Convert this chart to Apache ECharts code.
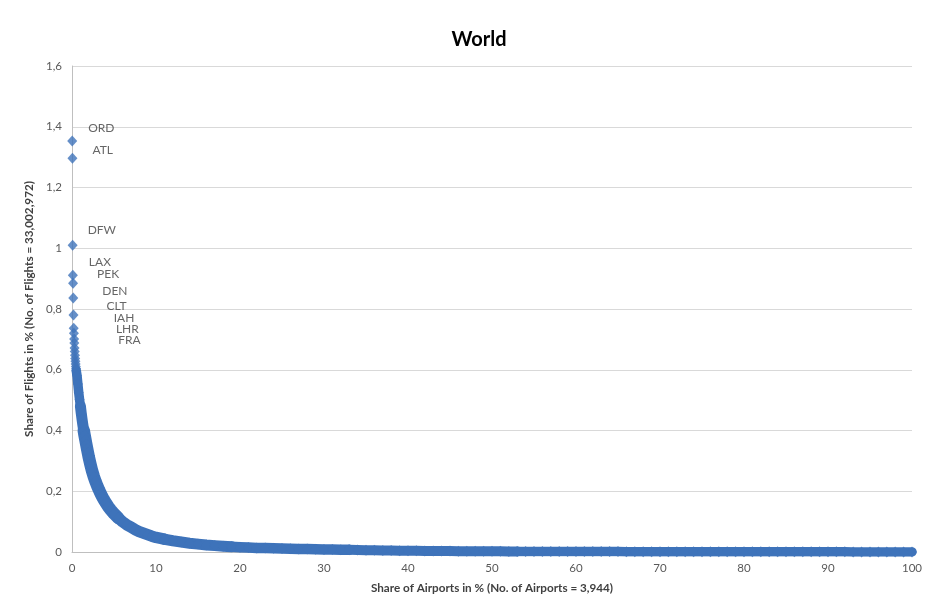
<!DOCTYPE html>
<html>
<head>
<meta charset="utf-8">
<script src="https://cdn.jsdelivr.net/npm/echarts@6/dist/echarts.min.js"></script>
<style>html,body{margin:0;padding:0;background:#fff}#c{width:925px;height:605px}</style>
</head>
<body>
<div id="c"></div>
<script>
// ---- DATA ----
const chartTitle = 'World';
const xAxisTitle = 'Share of Airports in % (No. of Airports = 3,944)';
const yAxisTitle = 'Share of Flights in % (No. of Flights = 33,002,972)';
const xTicks = [0, 10, 20, 30, 40, 50, 60, 70, 80, 90, 100];
const yTicks = [0, 0.2, 0.4, 0.6, 0.8, 1, 1.2, 1.4, 1.6];
const airportCodes = ['ORD', 'ATL', 'DFW', 'LAX', 'PEK', 'DEN', 'CLT', 'IAH', 'LHR', 'FRA'];
// share of airports (%) and share of flights (%)
const airportShare = [
  0.025, 0.051, 0.076, 0.101, 0.127, 0.152, 0.177, 0.203, 0.228, 0.254,
  0.279, 0.304, 0.330, 0.355, 0.380, 0.406, 0.431, 0.456, 0.482, 0.507,
  0.6, 0.7, 0.8, 0.9, 1.0, 1.1, 1.2, 1.3, 1.4, 1.5, 1.6, 1.7, 1.8, 1.9, 2.0,
  2.2, 2.4, 2.6, 2.8, 3.0, 3.2, 3.4, 3.6, 3.8, 4.0, 4.3, 4.6, 5.0, 5.5,
  6.0, 6.5, 7.0, 7.5, 8.0, 8.5, 9.0, 9.5, 10,
  11, 12, 13, 14, 15, 16, 17, 18, 19, 20,
  21, 22, 23, 24, 25, 26, 27, 28, 29, 30,
  31, 32, 33, 34, 35, 36, 37, 38, 39, 40,
  41, 42, 43, 44, 45, 46, 47, 48, 49, 50,
  51, 52, 53, 54, 55, 56, 57, 58, 59, 60,
  61, 62, 63, 64, 65, 66, 67, 68, 69, 70,
  71, 72, 73, 74, 75, 76, 77, 78, 79, 80,
  81, 82, 83, 84, 85, 86, 87, 88, 89, 90,
  91, 92, 93, 94, 95, 96, 97, 98, 99, 100
];
const flightShare = [
  1.353, 1.296, 1.010, 0.911, 0.885, 0.836, 0.780, 0.737, 0.720, 0.701,
  0.688, 0.672, 0.660, 0.648, 0.637, 0.628, 0.619, 0.611, 0.604, 0.597,
  0.580, 0.553, 0.525, 0.502, 0.480, 0.457, 0.436, 0.417, 0.400, 0.384, 0.369, 0.354, 0.340, 0.326, 0.312,
  0.288, 0.266, 0.248, 0.232, 0.218, 0.205, 0.193, 0.182, 0.172, 0.163, 0.150, 0.139, 0.126, 0.112,
  0.100, 0.090, 0.082, 0.074, 0.067, 0.062, 0.057, 0.052, 0.048,
  0.042, 0.037, 0.033, 0.029, 0.026, 0.023, 0.021, 0.019, 0.017, 0.016,
  0.015, 0.0135, 0.0128, 0.012, 0.0115, 0.011, 0.0102, 0.0095, 0.009, 0.0085,
  0.008, 0.0075, 0.007, 0.0065, 0.006, 0.0055, 0.005, 0.0047, 0.0044, 0.004,
  0.0038, 0.0036, 0.0034, 0.0032, 0.003, 0.0028, 0.0026, 0.0025, 0.0023, 0.0022,
  0.0021, 0.002, 0.0019, 0.0019, 0.0018, 0.0017, 0.0017, 0.0016, 0.0016, 0.0015,
  0.0015, 0.0014, 0.0014, 0.0013, 0.0013, 0.0012, 0.0012, 0.0011, 0.0011, 0.001,
  0.001, 0.001, 0.00095, 0.0009, 0.0009, 0.00088, 0.00085, 0.00083, 0.0008, 0.0008,
  0.00078, 0.00075, 0.0007, 0.0007, 0.00065, 0.0006, 0.0006, 0.00055, 0.0005, 0.0005,
  0.00048, 0.00045, 0.0004, 0.0004, 0.00035, 0.0003, 0.0003, 0.00025, 0.0002, 0.0002
];

// ---- STYLE ----
const blue = '#3E73BA';
const font = "Lato, 'Open Sans', 'DejaVu Sans', sans-serif";
const labelOffsets = [[6, -13], [10, -8], [5, -15], [6, -13], [14, -9], [19, -7], [23, -9], [30, -10], [32, -4], [34, 1]];
// band segments: [first index, last index, line width]
const bandSegments = [[19, 24, 9.5], [24, 28, 11], [28, 48, 12.5], [48, 58, 11.5], [58, 66, 11], [66, 80, 10.5], [80, 100, 10], [100, 160, 9.5]];

const pts = airportShare.map((x, i) => {
  const item = { value: [x, flightShare[i]] };
  if (i < airportCodes.length) {
    item.name = airportCodes[i];
    item.label = {
      show: true, position: 'right', distance: 5, offset: labelOffsets[i],
      formatter: '{b}', color: '#404040', fontSize: 12, fontFamily: font
    };
  }
  return item;
});
const bandSeries = bandSegments.map(([a, b, w]) => ({
  type: 'line',
  data: airportShare.slice(a, b + 1).map((x, i) => [x, flightShare[a + i]]),
  showSymbol: false, symbol: 'none',
  lineStyle: { color: blue, width: w, cap: 'round', join: 'round' }, z: 2, silent: true
}));

const chart = echarts.init(document.getElementById('c'), null, { renderer: 'canvas' });
chart.setOption({
  animation: false,
  backgroundColor: '#fff',
  title: {
    text: chartTitle, left: 474, top: 25, textAlign: 'center',
    textStyle: { fontSize: 20, fontWeight: 'bold', color: '#000', fontFamily: font }
  },
  grid: { left: 72, right: 10, top: 66, bottom: 53, containLabel: false },
  xAxis: {
    type: 'value', min: xTicks[0], max: xTicks[xTicks.length - 1], interval: 10,
    name: xAxisTitle, nameLocation: 'middle', nameGap: 30,
    nameTextStyle: { fontSize: 11.7, fontWeight: 'bold', color: '#404040', fontFamily: font },
    axisLine: { show: true, lineStyle: { color: '#bfbfbf', width: 1 } },
    axisTick: { show: false },
    splitLine: { show: false },
    axisLabel: { color: '#595959', fontSize: 11.5, fontFamily: font, margin: 10 }
  },
  yAxis: {
    type: 'value', min: yTicks[0], max: yTicks[yTicks.length - 1], interval: 0.2,
    name: yAxisTitle, nameLocation: 'middle', nameGap: 31, nameRotate: 90,
    nameTextStyle: { fontSize: 11.7, fontWeight: 'bold', color: '#404040', fontFamily: font },
    axisLine: { show: true, lineStyle: { color: '#bfbfbf', width: 1 } },
    axisTick: { show: false },
    splitLine: { show: true, lineStyle: { color: '#d9d9d9', width: 1 } },
    axisLabel: {
      color: '#595959', fontSize: 11.5, fontFamily: font, margin: 10,
      formatter: v => String(+v.toFixed(1)).replace('.', ',')
    }
  },
  series: bandSeries.concat([
    {
      type: 'scatter', data: pts, symbol: 'diamond', symbolSize: [10, 11],
      itemStyle: { color: blue }, z: 3
    }
  ])
});
</script>
</body>
</html>
